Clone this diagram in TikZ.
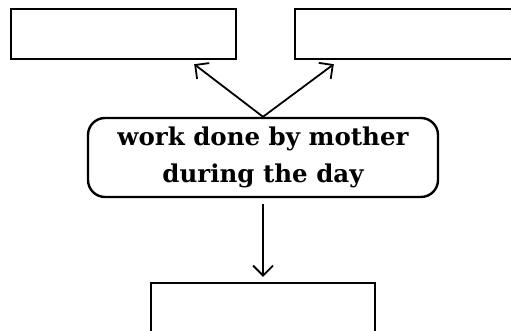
\documentclass[tikz,border=0pt]{standalone}
\usepackage{fontspec}
\setmainfont{DejaVu Serif}
\usetikzlibrary{arrows.meta}

\begin{document}
\begin{tikzpicture}[x=1pt,y=1pt,>={Straight Barb[length=10pt,width=20pt,line width=1.8pt]},
    blank/.style={draw,line width=2.4pt,minimum width=225pt,minimum height=50pt,inner sep=0pt},
    topic/.style={draw,line width=2.4pt,rounded corners=17pt,minimum width=350pt,minimum height=79pt,
      align=center,font=\fontsize{24.5}{37}\selectfont\bfseries}]
  \clip (0,0) rectangle (511,331);
  \node[blank] (left) at (123.5,297) {};
  \node[blank] (right) at (407.5,297) {};
  \node[topic] (work) at (263,173.5) {work done by mother\\during the day};
  \node[blank,minimum width=224pt,minimum height=60pt] (below) at (263,18) {};
  \draw[line width=1.8pt,->] (work.north) -- ([xshift=-43pt,yshift=-4pt]left.south east);
  \draw[line width=1.8pt,->] (work.north) -- ([xshift=40pt,yshift=-4pt]right.south west);
  \draw[line width=1.8pt,->,shorten <=6pt,shorten >=5pt] (work.south) -- (below.north);
\end{tikzpicture}
\end{document}
